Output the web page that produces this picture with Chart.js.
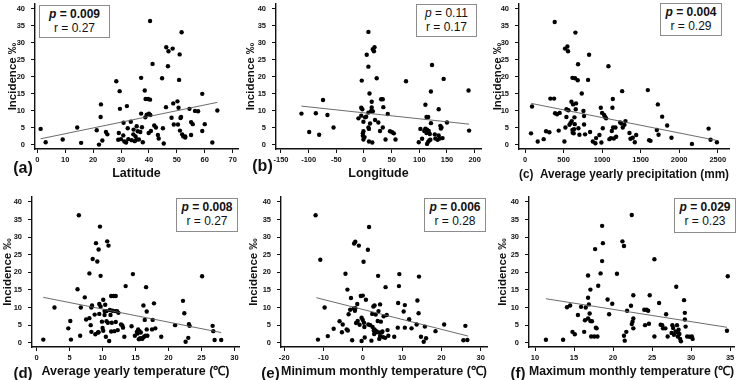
<!DOCTYPE html>
<html>
<head>
<meta charset="utf-8">
<script src="https://cdn.jsdelivr.net/npm/chart.js@4.4.1/dist/chart.umd.min.js"></script>
<style>
  body { margin: 0; background: #fff; }
  #wrap { position: relative; width: 748px; height: 380px; overflow: hidden; font-family: "Liberation Sans", Arial, sans-serif; color: #111; }
  canvas { position: absolute; }
  .stat { position: absolute; box-sizing: border-box; border: 1px solid #8c8c8c; background: #fff; text-align: center; font-size: 12px; line-height: 14px; padding-top: 1px; }
  .stat .sig { font-weight: bold; }
  .tag { position: absolute; font-weight: bold; transform: translate(-50%, -50%); white-space: nowrap; }
</style>
</head>
<body>
<div id="wrap"></div>
<script>
// incidence values share one y axis in every panel
const yTicks = [0, 5, 10, 15, 20, 25, 30, 35, 40];

// (a) latitude
const latTicks = [0, 10, 20, 30, 40, 50, 60, 70];
const latX = [1.2,3.0,9.1,14.3,15.7,21.3,22.1,22.7,22.8,23.3,24.6,25.1,28.3,29.5,29.6,29.2,29.0,30.0,30.8,30.9,31.2,31.8,32.1,32.4,32.6,33.5,33.8,34.4,34.5,34.9,35.2,35.6,35.6,36.0,36.4,36.9,37.2,37.2,37.5,37.8,38.5,38.7,38.8,39.2,39.7,40.0,39.9,40.4,40.4,40.5,40.7,41.3,41.9,42.5,43.2,43.5,44.7,45.0,45.3,46.1,46.2,47.0,46.8,48.5,48.1,48.7,48.9,50.2,50.4,50.6,50.8,51.0,51.1,51.3,51.5,51.7,51.9,52.3,53.0,53.0,54.5,55.1,55.1,55.7,56.5,57.6,59.1,59.1,60.0,62.7,64.5];
const latY = [4.7,0.8,1.6,5.1,0.6,4.3,0.1,8.2,11.9,1.3,3.8,3.1,18.7,15.8,10.6,3.5,1.5,1.7,2.8,6.5,1.0,0.7,11.4,4.9,1.7,6.8,1.4,3.1,4.5,1.1,2.5,5.5,1.6,4.0,1.6,3.8,19.7,9.2,5.2,0.8,16.0,8.1,13.5,8.9,13.5,9.2,3.5,36.4,13.3,8.8,4.1,23.8,5.7,5.1,2.9,1.9,19.6,4.9,0.4,11.1,28.7,27.5,23.1,28.3,8.0,12.2,6.0,12.8,6.0,10.9,19.1,26.6,4.2,7.9,8.2,33.1,3.1,2.5,2.2,2.5,10.6,6.7,2.9,6.1,10.0,9.9,15.0,4.1,6.1,0.7,10.1];
const latTrendX = [1.2, 64.5];
const latTrendY = [1.8, 12.5];

// (b) longitude
const lonTicks = [-150, -100, -50, 0, 50, 100, 150, 200];
const lonX = [-113,-99,-87,-81,-74,-66,-55,-10,-5,-5,-4,-3,-2,-2,-1,-1,-1,1,2,4,5,8,8,8,8,9,9,10,11,13,14,14,15,16,16,18,19,20,23,26,29,31,34,34,35,39,43,47,51,54,57,76,99,102,105,109,111,111,113,113,114,114,116,116,117,118,119,120,121,121,123,128,129,133,135,135,137,138,139,140,142,144,150,189,190];
const lonY = [9.2,3.8,9.3,3.0,13.2,8.8,5.1,7.8,10.9,8.6,18.9,10.5,2.7,3.4,1.6,6.8,4.0,2.3,8.1,8.3,26.5,23.0,9.5,33.2,5.1,1.0,4.7,15.1,6.3,10.0,12.7,11.0,0.7,9.9,28.1,27.5,28.7,7.3,19.6,6.6,4.1,13.4,5.1,13.4,11.1,1.6,9.1,4.0,3.7,3.4,1.6,18.7,0.8,4.7,1.8,4.1,11.8,4.8,3.5,8.2,0.3,4.5,8.2,0.9,4.1,1.3,3.2,1.5,15.7,6.4,23.5,3.1,1.9,1.5,10.5,2.8,1.9,5.6,4.8,5.1,2.0,19.4,6.6,16.0,4.2];
const lonTrendX = [-113, 190];
const lonTrendY = [11.4, 6.1];

// (c) average yearly precipitation
const precTicks = [0, 500, 1000, 1500, 2000, 2500];
const precX = [78,91,165,242,273,316,329,377,385,390,416,437,450,511,519,524,537,537,550,558,563,576,589,602,606,615,615,619,623,632,636,641,645,649,654,658,662,684,688,693,706,736,758,766,766,779,818,831,844,879,913,922,965,983,991,1000,1009,1026,1039,1052,1082,1095,1113,1126,1134,1139,1143,1152,1173,1182,1234,1251,1260,1268,1290,1303,1355,1368,1398,1424,1442,1593,1610,1628,1710,1723,1732,1779,1844,1900,2165,2381,2407,2489];
const precY = [3.4,11.3,1.0,1.7,4.0,3.7,13.6,13.6,36.1,9.3,9.0,4.2,9.4,1.0,28.3,5.1,10.5,8.2,28.9,27.5,10.2,5.9,6.4,12.7,7.0,4.4,19.7,3.6,11.9,3.4,4.6,8.1,6.1,19.6,33.0,10.5,12.2,19.0,23.7,4.9,3.0,15.1,10.0,8.5,6.0,3.1,19.1,26.5,3.8,1.0,0.5,2.0,2.9,10.9,0.7,9.4,4.9,8.8,8.2,7.8,23.1,1.7,2.0,4.1,10.9,13.5,5.1,1.9,5.1,2.4,6.6,6.3,15.8,5.1,5.9,7.0,3.5,1.8,2.1,0.8,2.9,16.1,1.4,1.2,4.4,11.9,3.0,8.3,5.7,2.1,0.3,4.8,1.5,0.8];
const precTrendX = [80, 2489];
const precTrendY = [12.2, 1.3];

// (d) average yearly temperature
const tavgTicks = [0, 5, 10, 15, 20, 25, 30];
const tavgX = [1.0,2.7,4.8,5.1,5.2,6.2,6.4,6.6,6.7,7.3,7.5,8.0,8.0,8.2,8.3,8.4,8.3,8.5,8.8,8.9,9.0,9.2,9.3,9.4,9.4,9.5,9.5,9.6,9.7,9.7,9.9,10.0,10.1,10.1,10.3,10.3,10.4,10.5,10.6,10.6,10.7,10.8,10.9,11.0,11.1,11.2,11.3,11.3,11.4,11.5,11.7,11.8,11.9,12.0,12.0,12.2,12.3,12.4,12.8,13.0,13.1,13.3,13.5,14.4,14.6,14.9,15.2,15.3,15.4,15.5,15.6,15.7,15.8,16.0,16.1,16.2,16.3,16.4,16.5,16.6,16.7,16.7,16.8,17.5,17.6,17.8,18.0,18.9,21.0,22.2,22.4,22.6,23.0,23.1,23.2,25.1,26.7,26.8,27.0,28.0];
const tavgY = [0.9,10.0,4.1,6.2,0.9,15.2,36.2,2.0,10.0,12.9,6.6,7.0,19.7,5.0,10.0,10.6,3.1,23.8,8.0,2.4,28.3,23.1,2.9,26.5,3.0,11.0,8.2,33.0,19.0,10.3,6.0,4.2,3.4,12.2,9.0,7.9,10.8,1.7,6.1,9.0,28.8,5.7,27.6,0.5,9.3,7.9,3.2,13.3,5.7,9.1,13.3,3.3,9.0,13.3,5.9,9.0,3.6,8.5,5.2,4.9,4.3,1.7,16.1,4.7,19.5,2.0,3.1,2.6,3.8,1.0,3.3,1.3,2.9,1.1,1.4,10.6,1.7,6.5,2.0,15.8,8.9,3.8,2.0,3.8,6.5,11.2,4.1,1.7,5.0,11.9,8.4,0.3,1.4,5.3,4.8,18.9,4.8,3.3,0.8,0.8];
const tavgTrendX = [1.0, 28.0];
const tavgTrendY = [12.9, 2.9];

// (e) minimum monthly temperature
const tminTicks = [-20, -10, 0, 10, 20, 30];
const tminX = [-12.0,-11.4,-10.8,-9.7,-8.9,-7.4,-5.9,-5.3,-5.1,-4.4,-4.1,-3.9,-3.8,-3.6,-3.2,-3.0,-2.7,-2.3,-2.2,-2.0,-1.9,-1.9,-1.7,-1.4,-1.3,-1.0,-0.8,-0.5,-0.3,-0.3,0.0,0.0,0.2,0.3,0.4,0.5,0.8,1.3,1.4,1.6,1.9,2.2,2.4,2.5,2.7,2.8,2.9,3.0,3.0,3.2,3.3,3.5,3.8,3.9,4.0,4.1,4.2,4.4,4.4,4.6,4.8,5.0,5.2,5.3,5.7,5.8,6.1,6.3,6.5,8.0,8.9,9.0,9.2,9.3,10.4,10.7,10.7,11.8,12.4,13.7,13.9,14.2,14.3,14.8,15.5,15.8,16.1,18.5,20.7,25.6,26.1,26.6];
const tminY = [36.2,0.9,23.6,10.0,1.9,4.0,6.1,3.0,5.2,19.6,3.8,15.1,3.5,8.1,9.4,12.7,0.7,9.7,28.2,9.1,28.7,9.8,5.6,11.0,6.2,27.6,5.1,13.3,0.5,7.1,6.5,13.4,23.0,5.7,4.5,1.5,12.2,26.4,5.2,32.9,5.0,0.6,8.2,4.5,10.3,3.5,2.5,10.6,3.8,2.9,8.0,3.3,6.2,19.0,9.0,2.9,1.1,1.9,10.9,6.0,2.9,3.2,1.6,7.5,1.4,15.8,7.9,3.6,2.0,1.7,4.3,11.3,16.1,19.5,8.9,10.7,4.3,6.7,4.1,5.2,12.0,8.4,18.8,1.7,0.3,4.6,1.3,3.3,5.2,0.7,4.8,0.8];
const tminTrendX = [-11.8, 26.8];
const tminTrendY = [12.8, 1.9];

// (f) maximum monthly temperature
const tmaxTicks = [10, 15, 20, 25, 30, 35];
const tmaxX = [11.4,13.6,14.1,14.5,14.8,15.1,15.5,15.9,16.3,16.4,16.5,16.8,16.8,16.9,16.8,17.0,17.1,17.1,17.2,17.3,17.7,17.6,17.8,17.9,18.0,18.1,18.4,18.6,18.6,18.7,19.3,19.5,19.9,20.5,21.2,21.4,21.4,21.5,21.7,21.8,22.3,22.4,22.4,22.5,22.6,22.6,22.6,25.3,24.7,24.0,24.3,24.5,25.9,24.1,24.6,25.3,26.1,26.3,26.4,26.7,26.8,27.0,27.5,27.6,27.7,27.8,28.1,28.0,28.2,28.3,28.3,28.4,28.5,28.6,28.7,29.1,29.2,29.2,29.3,29.5,29.8,30.1,30.2,34.7,34.6];
const tmaxY = [0.86,0.86,10.1,10.6,3.1,2.4,7.9,10.2,3.1,6.4,10.0,19.1,12.8,10.9,6.9,8.3,6.2,15.1,1.8,6.1,26.6,1.8,4.3,4.1,1.8,16.2,19.7,33.2,23.2,28.3,12.3,8.1,11.1,19.6,28.8,27.5,2.0,0.6,3.1,9.1,10.5,36.3,5.3,6.0,4.1,6.9,13.5,23.7,13.5,9.4,9.4,9.1,11.3,5.0,5.4,1.8,5.1,5.0,4.1,4.1,8.1,1.8,2.8,5.0,4.2,2.3,15.9,3.2,5.0,1.8,2.9,3.7,2.5,1.1,0.4,12.1,8.5,6.6,4.6,1.8,1.7,1.8,1.1,18.9,3.4];
const tmaxTrendX = [11.4, 34.6];
const tmaxTrendY = [12.5, 4.4];

// texts
const xTitles = ["Latitude", "Longitude", "(c)  Average yearly precipitation (mm)",
  "Average yearly temperature (\u2103)", "Minimum monthly temperature (\u2103)", "Maximum monthly temperature (\u2103)"];
const pValues = ["0.009", "0.11", "0.004", "0.008", "0.006", "0.029"];
const rValues = ["0.27", "0.17", "0.29", "0.27", "0.28", "0.23"];
const pSignificant = [true, false, true, true, true, true];

// canvas placement per panel; y axis width / x axis height pin the plot area
const panels = [
  { xs: latX, ys: latY, tx: latTrendX, ty: latTrendY, ticks: latTicks, min: -0.82, max: 71.9,
    left: 6, top: 0, width: 244, yW: 29, padTop: 4, xH: 41, titlePad: 8.5,
    box: [39, 5, 71, 33], tag: ["(a)", 23, 168, 16] },
  { xs: lonX, ys: lonY, tx: lonTrendX, ty: lonTrendY, ticks: lonTicks, min: -159, max: 211.5,
    left: 244, top: 0, width: 249, yW: 32, padTop: 4, xH: 41, titlePad: 8.5,
    box: [416, 4, 61, 33], tag: ["(b)", 262.5, 166, 16] },
  { xs: precX, ys: precY, tx: precTrendX, ty: precTrendY, ticks: precTicks, min: -78, max: 2646,
    left: 491, top: 0, width: 250, yW: 28, padTop: 4, xH: 41, titlePad: 7.5,
    box: [660, 3, 62, 33], tag: null },
  { xs: tavgX, ys: tavgY, tx: tavgTrendX, ty: tavgTrendY, ticks: tavgTicks, min: -0.71, max: 30.7,
    left: 1, top: 190, width: 250, yW: 31, padTop: 7, xH: 33, titlePad: 0.5,
    box: [176, 198, 62, 34], tag: ["(d)", 23, 371.5, 15] },
  { xs: tminX, ys: tminY, tx: tminTrendX, ty: tminTrendY, ticks: tminTicks, min: -20.8, max: 31.6,
    left: 247, top: 190, width: 252, yW: 34, padTop: 7, xH: 33, titlePad: 0.5,
    box: [424, 198, 62, 34], tag: ["(e)", 270.5, 372, 15] },
  { xs: tmaxX, ys: tmaxY, tx: tmaxTrendX, ty: tmaxTrendY, ticks: tmaxTicks, min: 9.23, max: 35.5,
    left: 496, top: 190, width: 250, yW: 33, padTop: 7, xH: 33, titlePad: 0.5,
    box: [674, 198, 62, 35], tag: ["(f)", 518, 372, 15] }
];

const wrap = document.getElementById("wrap");
const FONT = "'Liberation Sans', Arial, sans-serif";
const axisColor = "#111";

panels.forEach((p, i) => {
  const cv = document.createElement("canvas");
  cv.width = p.width;
  cv.height = 190;
  cv.style.left = p.left + "px";
  cv.style.top = p.top + "px";
  wrap.appendChild(cv);

  const tickFont = { family: FONT, size: 7.5, weight: "bold" };

  new Chart(cv, {
    type: "scatter",
    data: {
      datasets: [
        {
          data: p.xs.map((x, k) => ({ x: x, y: p.ys[k] })),
          pointRadius: 2.2,
          pointBackgroundColor: "#000",
          pointBorderWidth: 0,
          order: 1
        },
        {
          data: p.tx.map((x, k) => ({ x: x, y: p.ty[k] })),
          showLine: true,
          pointRadius: 0,
          borderColor: "#5a5a5a",
          borderWidth: 0.9,
          order: 0
        }
      ]
    },
    options: {
      responsive: false,
      animation: false,
      events: [],
      layout: { padding: { left: 0, top: p.padTop, right: 12, bottom: 0 } },
      plugins: { legend: { display: false }, tooltip: { enabled: false } },
      scales: {
        x: {
          type: "linear",
          min: p.min,
          max: p.max,
          afterBuildTicks: s => { s.ticks = p.ticks.map(v => ({ value: v })); },
          afterFit: s => { s.height = p.xH; s.paddingLeft = 0; s.paddingRight = 0; },
          grid: { drawOnChartArea: false, tickLength: 4, color: axisColor, lineWidth: 1 },
          border: { color: axisColor, width: 1.4 },
          ticks: { padding: 2, autoSkip: false, maxRotation: 0, color: "#111", font: tickFont,
                   callback: v => String(v) },
          title: { display: true, text: xTitles[i], color: "#111",
                   font: { family: FONT, size: 12.5, weight: "bold" },
                   padding: { top: 0, bottom: p.titlePad } }
        },
        y: {
          min: -1.2,
          max: 41.4,
          afterBuildTicks: s => { s.ticks = yTicks.map(v => ({ value: v })); },
          afterFit: s => { s.width = p.yW; s.paddingTop = 0; s.paddingBottom = 0; },
          grid: { drawOnChartArea: false, tickLength: 4, color: axisColor, lineWidth: 1 },
          border: { color: axisColor, width: 1.4 },
          ticks: { padding: 6, autoSkip: false, color: "#111", font: tickFont,
                   callback: v => String(v) },
          title: { display: true, text: "Incidence \u2030", color: "#111",
                   font: { family: FONT, size: 11.5, weight: "bold" },
                   padding: 0 }
        }
      }
    }
  });

  // p / r box
  const b = document.createElement("div");
  b.className = "stat";
  b.style.left = p.box[0] + "px";
  b.style.top = p.box[1] + "px";
  b.style.width = p.box[2] + "px";
  b.style.height = p.box[3] + "px";
  const pLine = "<i>p</i> = " + pValues[i];
  b.innerHTML = (pSignificant[i] ? '<div class="sig">' + pLine + "</div>" : "<div>" + pLine + "</div>") +
                "<div>r = " + rValues[i] + "</div>";
  wrap.appendChild(b);

  // panel letter
  if (p.tag) {
    const t = document.createElement("div");
    t.className = "tag";
    t.textContent = p.tag[0];
    t.style.left = p.tag[1] + "px";
    t.style.top = p.tag[2] + "px";
    t.style.fontSize = p.tag[3] + "px";
    wrap.appendChild(t);
  }
});
</script>
</body>
</html>
